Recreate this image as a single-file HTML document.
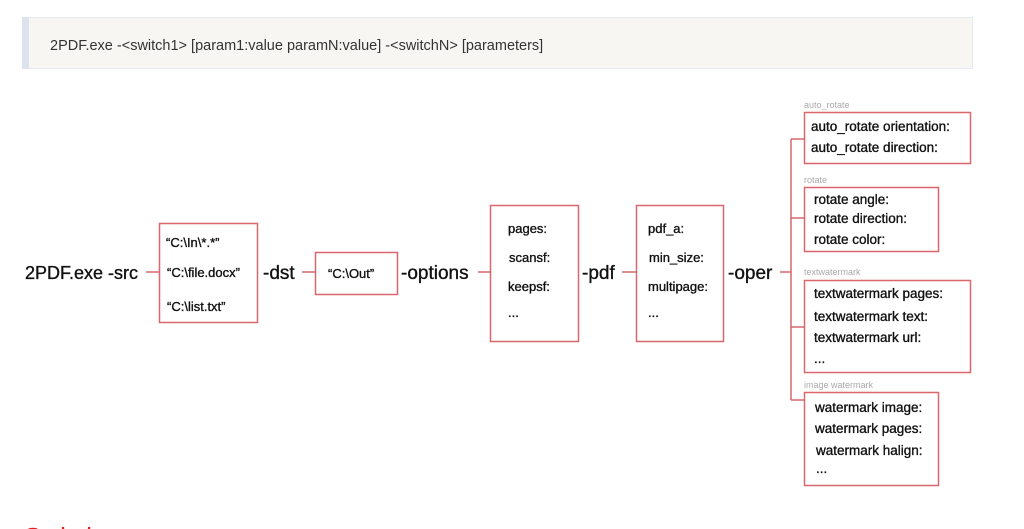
<!DOCTYPE html>
<html><head><meta charset="utf-8"><style>
html,body{margin:0;padding:0;width:1024px;height:529px;overflow:hidden;background:#fff}
svg{display:block}
text{font-family:"Liberation Sans","DejaVu Sans",sans-serif;fill:#111}
.m{font-size:13px;stroke:#111;stroke-width:0.35}
.b{font-size:19px;stroke:#111;stroke-width:0.35}
.s{font-size:13.5px;stroke:#111;stroke-width:0.35}
.l{font-size:9px;fill:#aaa}
</style></head><body>
<svg width="1024" height="529" viewBox="0 0 1024 529" xmlns="http://www.w3.org/2000/svg">
<rect x="22.5" y="17.5" width="950" height="51" fill="#f7f6f2" stroke="#e6eaf2"/>
<rect x="22" y="17" width="7" height="52" fill="#dde3ee"/>
<text x="50" y="50" style="font-size:14.5px;fill:#333">2PDF.exe -&lt;switch1&gt; [param1:value paramN:value] -&lt;switchN&gt; [parameters]</text>

<g stroke="#d9676b" stroke-width="1.5" fill="none">
<line x1="146" y1="272" x2="159" y2="272"/>
<rect x="159.5" y="223.5" width="98" height="99"/>
<line x1="302" y1="272" x2="315" y2="272"/>
<rect x="315.5" y="252.5" width="82" height="42"/>
<line x1="478" y1="272" x2="490" y2="272"/>
<rect x="490.5" y="205.5" width="88" height="136"/>
<line x1="622" y1="272" x2="636" y2="272"/>
<rect x="636.5" y="205.5" width="87" height="136"/>
<line x1="780" y1="272" x2="791" y2="272"/>
<line x1="791" y1="139" x2="791" y2="400"/>
<line x1="791" y1="139" x2="804" y2="139"/>
<line x1="791" y1="218" x2="804" y2="218"/>
<line x1="791" y1="327" x2="804" y2="327"/>
<line x1="791" y1="400" x2="804" y2="400"/>
<rect x="804.5" y="112.5" width="166" height="51"/>
<rect x="804.5" y="187.5" width="134" height="64"/>
<rect x="804.5" y="280.5" width="166" height="92"/>
<rect x="804.5" y="392.5" width="134" height="93"/>
</g>

<text class="b" x="25" y="279" style="font-size:18px">2PDF.exe -src</text>
<text class="m" x="166" y="247">“C:\In\*.*”</text>
<text class="m" x="167" y="277">“C:\file.docx”</text>
<text class="m" x="167" y="311">“C:\list.txt”</text>
<text class="b" x="263" y="279">-dst</text>
<text class="m" x="328" y="278">“C:\Out”</text>
<text class="b" x="401" y="279">-options</text>
<text class="m" x="508" y="233">pages:</text>
<text class="m" x="509" y="262">scansf:</text>
<text class="m" x="508" y="291">keepsf:</text>
<text class="m" x="508" y="317">...</text>
<text class="b" x="582" y="279">-pdf</text>
<text class="m" x="648" y="233">pdf_a:</text>
<text class="m" x="649" y="262">min_size:</text>
<text class="m" x="648" y="291">multipage:</text>
<text class="m" x="648" y="317">...</text>
<text class="b" x="728" y="279">-oper</text>

<text class="l" x="804" y="108">auto_rotate</text>
<text class="s" x="811" y="131">auto_rotate orientation:</text>
<text class="s" x="811" y="152">auto_rotate direction:</text>
<text class="l" x="804" y="183">rotate</text>
<text class="s" x="814" y="204">rotate angle:</text>
<text class="s" x="814" y="223">rotate direction:</text>
<text class="s" x="814" y="244">rotate color:</text>
<text class="l" x="804" y="275">textwatermark</text>
<text class="s" x="814" y="298">textwatermark pages:</text>
<text class="s" x="814" y="321">textwatermark text:</text>
<text class="s" x="814" y="342">textwatermark url:</text>
<text class="s" x="814" y="363">...</text>
<text class="l" x="804" y="388">image watermark</text>
<text class="s" x="815" y="412">watermark image:</text>
<text class="s" x="815" y="433">watermark pages:</text>
<text class="s" x="816" y="455">watermark halign:</text>
<text class="s" x="816" y="473">...</text>

<text x="24" y="546" style="font-size:26px;fill:#e02020">Switches</text>
</svg>
</body></html>
